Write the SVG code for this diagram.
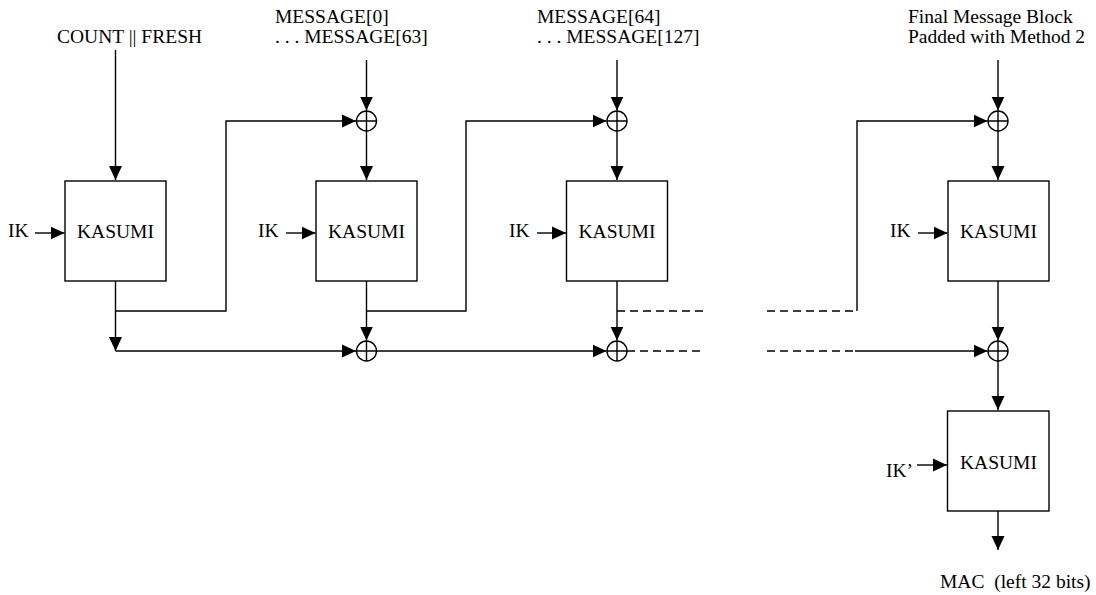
<svg xmlns="http://www.w3.org/2000/svg" width="1096" height="595" viewBox="0 0 1096 595">
<style>
.ln{fill:none;stroke:#000;stroke-width:1.4}
.dash{fill:none;stroke:#000;stroke-width:1.4;stroke-dasharray:8 5}
.box{fill:#fff;stroke:#000;stroke-width:1.4}
.xor{fill:#fff;stroke:#000;stroke-width:1.4}
.t{font-family:'Liberation Serif','Times New Roman','DejaVu Serif',serif;font-size:19.5px;fill:#000}
.mid{text-anchor:middle}
</style>
<defs>
<marker id="ah" markerUnits="userSpaceOnUse" markerWidth="15" markerHeight="15" viewBox="0 0 15 15" refX="14" refY="7.5" orient="auto">
<path d="M0,1 L14,7.5 L0,14 Z" fill="#000"/>
</marker>
</defs>
<g id="connectors">
<path class="ln" d="M115.5,50 V180" marker-end="url(#ah)"/>
<path class="ln" d="M115.5,281 V351" marker-end="url(#ah)"/>
<path class="ln" d="M115.5,351 H356" marker-end="url(#ah)"/>
<path class="ln" d="M115.5,311 H226 V121 H356" marker-end="url(#ah)"/>
<path class="ln" d="M366.5,60 V110.5" marker-end="url(#ah)"/>
<path class="ln" d="M366.5,131 V180" marker-end="url(#ah)"/>
<path class="ln" d="M366.5,281 V340.5" marker-end="url(#ah)"/>
<path class="ln" d="M366.5,311 H466 V121 H606.5" marker-end="url(#ah)"/>
<path class="ln" d="M376.5,351 H606.5" marker-end="url(#ah)"/>
<path class="ln" d="M617,60 V110.5" marker-end="url(#ah)"/>
<path class="ln" d="M617,131 V180" marker-end="url(#ah)"/>
<path class="ln" d="M617,281 V340.5" marker-end="url(#ah)"/>
<path class="dash" d="M617,311 H704"/>
<path class="dash" d="M627,351 H704"/>
<path class="dash" d="M767,311 H857"/>
<path class="ln" d="M857,311 V121 H987.5" marker-end="url(#ah)"/>
<path class="dash" d="M767,351 H855"/>
<path class="ln" d="M855,351 H987.5" marker-end="url(#ah)"/>
<path class="ln" d="M998,60 V110.5" marker-end="url(#ah)"/>
<path class="ln" d="M998,131 V180" marker-end="url(#ah)"/>
<path class="ln" d="M998,281 V340.5" marker-end="url(#ah)"/>
<path class="ln" d="M998,361 V410" marker-end="url(#ah)"/>
<path class="ln" d="M998,511 V550" marker-end="url(#ah)"/>
<path class="ln" d="M35,233 H64.5" marker-end="url(#ah)"/>
<path class="ln" d="M286,233 H315.5" marker-end="url(#ah)"/>
<path class="ln" d="M537,233 H566" marker-end="url(#ah)"/>
<path class="ln" d="M918,233 H947.5" marker-end="url(#ah)"/>
<path class="ln" d="M917,465 H947" marker-end="url(#ah)"/>
</g>
<g id="xor1"><circle class="xor" cx="366.5" cy="121" r="10"/><path class="ln" d="M356.5,121 H376.5 M366.5,111 V131"/></g>
<g id="xor2"><circle class="xor" cx="617" cy="121" r="10"/><path class="ln" d="M607,121 H627 M617,111 V131"/></g>
<g id="xor3"><circle class="xor" cx="998" cy="121" r="10"/><path class="ln" d="M988,121 H1008 M998,111 V131"/></g>
<g id="xor4"><circle class="xor" cx="366.5" cy="351" r="10"/><path class="ln" d="M356.5,351 H376.5 M366.5,341 V361"/></g>
<g id="xor5"><circle class="xor" cx="617" cy="351" r="10"/><path class="ln" d="M607,351 H627 M617,341 V361"/></g>
<g id="xor6"><circle class="xor" cx="998" cy="351" r="10"/><path class="ln" d="M988,351 H1008 M998,341 V361"/></g>
<g id="kasumi1"><rect class="box" x="65" y="181" width="101" height="100"/><text class="t mid" x="115.5" y="238">KASUMI</text></g>
<g id="kasumi2"><rect class="box" x="316" y="181" width="101" height="100"/><text class="t mid" x="366.5" y="238">KASUMI</text></g>
<g id="kasumi3"><rect class="box" x="566.5" y="181" width="101" height="100"/><text class="t mid" x="617" y="238">KASUMI</text></g>
<g id="kasumi4"><rect class="box" x="948" y="181" width="101" height="100"/><text class="t mid" x="998.5" y="238">KASUMI</text></g>
<g id="kasumi5"><rect class="box" x="947.5" y="411" width="101.5" height="100"/><text class="t mid" x="998.5" y="469">KASUMI</text></g>
<g id="labels">
<text class="t" x="57" y="43">COUNT || FRESH</text>
<text class="t" x="275" y="23">MESSAGE[0]</text>
<text class="t" x="275" y="43">. . . MESSAGE[63]</text>
<text class="t" x="537" y="23">MESSAGE[64]</text>
<text class="t" x="537" y="43">. . . MESSAGE[127]</text>
<text class="t" x="908" y="23">Final Message Block</text>
<text class="t" x="908" y="43">Padded with Method 2</text>
<text class="t" x="8" y="237">IK</text>
<text class="t" x="258" y="237">IK</text>
<text class="t" x="509" y="237">IK</text>
<text class="t" x="890" y="237">IK</text>
<text class="t" x="886" y="477">IK’</text>
<text class="t" x="940" y="588" style="white-space:pre">MAC  (left 32 bits)</text>
</g>
</svg>
